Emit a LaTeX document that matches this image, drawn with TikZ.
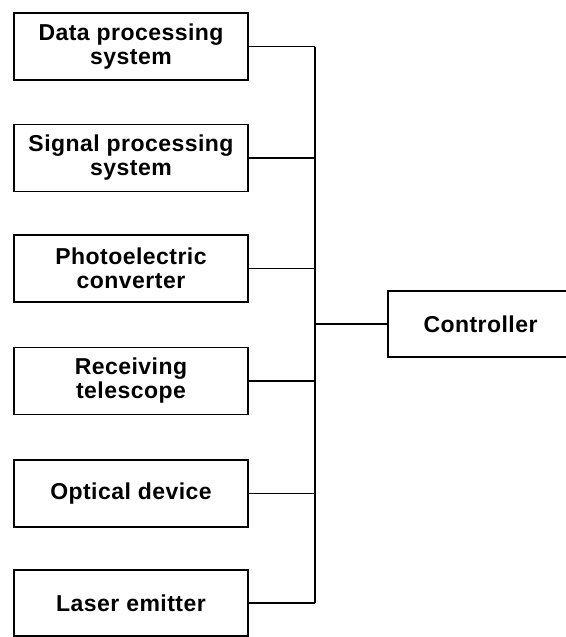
\documentclass[tikz,border=0pt]{standalone}
\usepackage{fontspec}
\setmainfont{Liberation Sans}[LetterSpace=2]
\begin{document}
\begin{tikzpicture}[x=1pt,y=-1pt,
  blk/.style={draw,line width=1.8pt,minimum width=234pt,minimum height=67pt,inner sep=0pt,
    align=center,font=\fontsize{23}{24}\selectfont\bfseries},
  wire/.style={line width=1.8pt}]
\useasboundingbox (0,0) rectangle (565,637);
\node[blk] (d1) at (131,46.5) {Data processing\\system};
\node[blk] (d2) at (131,158) {Signal processing\\system};
\node[blk] (d3) at (131,268.5) {Photoelectric\\converter};
\node[blk] (d4) at (131,381) {Receiving\\telescope};
\node[blk] (d5) at (131,493.5) {Optical device};
\node[blk,minimum height=66pt] (d6) at (131,603) {Laser emitter};
\node[blk,minimum width=187pt,minimum height=66pt,text width=170pt,align=left] (ctrl) at (481.5,324) {\hspace*{27pt}Controller};
\coordinate (busx) at (315,0);
\foreach \n in {d1,d2,d3,d4,d5,d6}
  \draw[wire] (\n.east) -- (\n.east -| busx);
\draw[wire] (d1.east -| busx) -- (d6.east -| busx);
\draw[wire] (ctrl.west) -- (ctrl.west -| busx);
\end{tikzpicture}
\end{document}
